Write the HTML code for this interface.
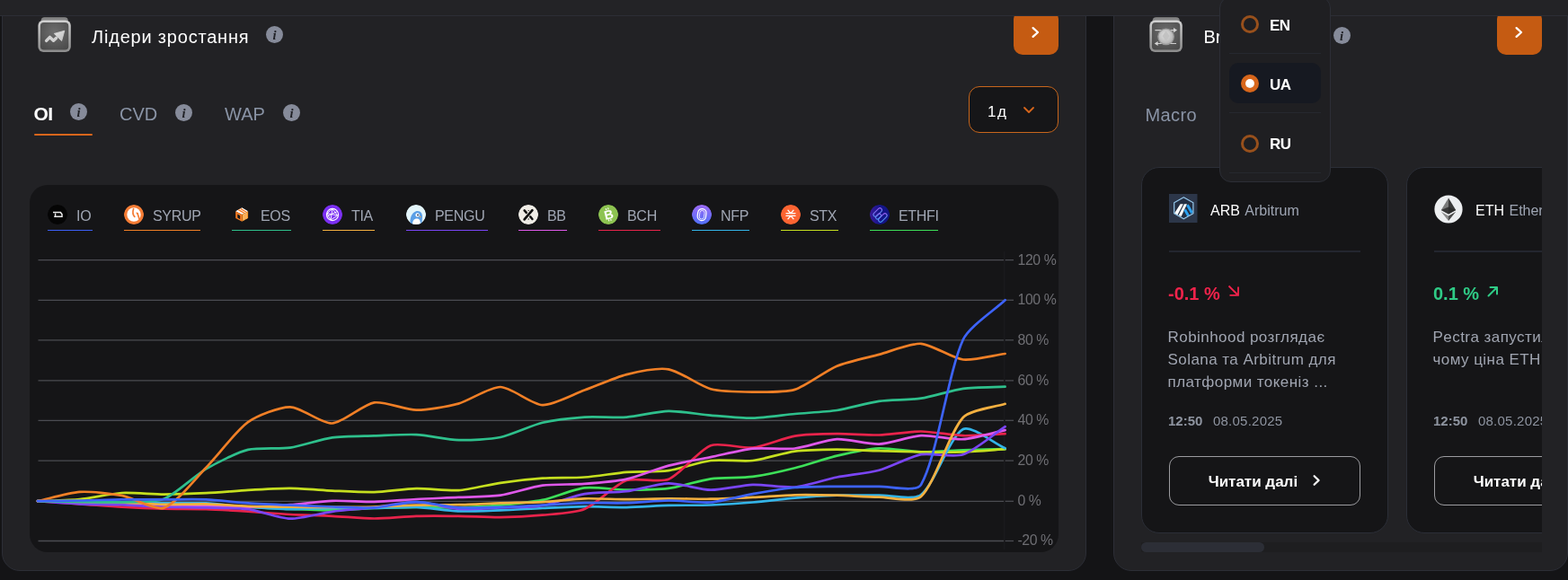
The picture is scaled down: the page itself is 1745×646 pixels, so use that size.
<!DOCTYPE html>
<html lang="uk"><head><meta charset="utf-8">
<title>Dashboard</title>
<style>
*{box-sizing:border-box;margin:0;padding:0}
html,body{width:1745px;height:646px;overflow:hidden;background:#141416;font-family:"Liberation Sans","Noto Sans CJK SC",sans-serif;color:#fff}
.abs{position:absolute}
.panel{position:absolute;background:#222225;border:1px solid #2c2e36;border-radius:20px}
#p1{left:2px;top:-40px;width:1207px;height:676px}
#p2{left:1239px;top:-40px;width:506px;height:676px}
.hdr{position:absolute;left:0;top:0;width:1745px;height:18px;background:#232326;border-bottom:1px solid #2c2e36;z-index:5}
.title{position:absolute;font-size:20px;line-height:24px;color:#fff;white-space:nowrap}
.info{position:absolute;width:19px;height:19px;border-radius:50%;background:#868b9a;color:#202126;font:italic bold 14.5px/21px "Liberation Serif",serif;text-align:center;overflow:hidden}
.obtn{position:absolute;width:50px;height:50px;border-radius:10px;background:#c55b12}
.obtn svg{position:absolute;left:0;top:0}
.tab{position:absolute;font-size:20px;line-height:24px;color:#8a94a6;white-space:nowrap}
.tab.on{color:#fff}
.uline{position:absolute;height:2.5px;background:#d8661c;border-radius:1px}
.sel{position:absolute;left:1078px;top:96px;width:100px;height:52px;border:1px solid #c8661c;border-radius:12px;background:#161618}
.chartbox{position:absolute;left:33px;top:206px;width:1145px;height:408.5px;background:#151517;border-radius:20px}
.lg{position:absolute;top:228px;height:30px;font-size:16px;line-height:22px;color:#a0a6b3;white-space:nowrap;letter-spacing:-0.3px}
.lg .ic{position:absolute;left:0;top:0;width:22px;height:22px;border-radius:50%;overflow:hidden}
.lg .tx{position:absolute;left:32px;top:1.5px}
.lg .ul{position:absolute;left:0;top:27.8px;height:1.4px;right:0}
svg.chart{position:absolute;left:0;top:0}
.card{position:absolute;top:187px;width:274px;height:406px;background:#151517;border:1px solid #2b2e37;border-radius:20px;overflow:hidden}
.clip{position:absolute;left:1270px;top:150px;width:446px;height:470px;overflow:hidden}
.dl{font-size:17px;line-height:20px;font-weight:bold;color:#fff;letter-spacing:-0.6px}
.para{font-size:17px;line-height:25px;color:#a0a5b1;white-space:nowrap;letter-spacing:0.45px}
.date{font-size:15px;line-height:18px;color:#8e94a0;white-space:nowrap}
.rbtn{left:73.7px;top:339.5px;font-size:17px;line-height:20px;font-weight:bold;white-space:nowrap;letter-spacing:0px}
.dd{position:absolute;left:1357px;top:-4px;width:124px;height:207px;background:#1f1f22;border:1px solid #2c2e36;border-radius:13px;z-index:10}
</style></head>
<body>
<div class="panel" id="p1"></div>
<div class="panel" id="p2"></div>

<!-- ============ PANEL 1 ============ -->
<svg class="abs" style="left:42px;top:19px" width="38" height="40" viewBox="0 0 38 40">
  <defs>
    <linearGradient id="tabg" x1="0" y1="0" x2="0" y2="1"><stop offset="0" stop-color="#8a8a8a"/><stop offset="1" stop-color="#6a6a6a"/></linearGradient>
    <linearGradient id="rimg" x1="0" y1="0" x2="0" y2="1"><stop offset="0" stop-color="#d2d2d2"/><stop offset="1" stop-color="#8c8c8c"/></linearGradient>
    <radialGradient id="facg" cx="0.5" cy="0.35" r="0.75"><stop offset="0" stop-color="#6e6e6e"/><stop offset="1" stop-color="#4a4a4a"/></radialGradient>
    <linearGradient id="glyg" x1="0" y1="0" x2="1" y2="1"><stop offset="0" stop-color="#e6e6e6"/><stop offset="1" stop-color="#bdbdbd"/></linearGradient>
  </defs>
  <rect x="3.6" y="0.2" width="30.2" height="9" rx="4" fill="url(#tabg)"/>
  <rect x="0.4" y="3.6" width="36.4" height="35.4" rx="6" fill="url(#rimg)"/>
  <rect x="2.9" y="6.1" width="31.4" height="30.4" rx="4" fill="url(#facg)"/>
  <polyline points="9.6,26.4 13.5,22.4 17.5,26.2 20.5,23.4" fill="none" stroke="#d2d2d2" stroke-width="3.4" stroke-linecap="round" stroke-linejoin="round"/>
  <polygon points="18.2,18.4 29.8,15.2 26.6,26.6" fill="url(#glyg)" stroke="#d6d6d6" stroke-width="0.8" stroke-linejoin="round"/>
</svg>
<div class="title" style="left:102px;top:29px;letter-spacing:0.8px">Лідери зростання</div>
<div class="info" style="left:296px;top:29px">i</div>
<div class="obtn" style="left:1128px;top:11px"><svg width="50" height="50"><polyline points="21.6,29.9 27,25 21.6,20.1" fill="none" stroke="#fff" stroke-width="2.3" stroke-linecap="round" stroke-linejoin="round"/></svg></div>

<div class="tab on" style="left:37.5px;top:114.8px;font-size:21px;font-weight:bold;letter-spacing:-0.6px">OI</div>
<div class="info" style="left:78px;top:115px">i</div>
<div class="uline" style="left:38px;top:148.5px;width:65px"></div>
<div class="tab" style="left:133px;top:115px">CVD</div>
<div class="info" style="left:195px;top:116px">i</div>
<div class="tab" style="left:250px;top:115px">WAP</div>
<div class="info" style="left:315px;top:116px">i</div>

<div class="sel"><span class="abs" style="left:20px;top:18px;font-size:17px;line-height:20px;color:#fff;letter-spacing:1.5px">1д</span>
<svg class="abs" style="left:58.5px;top:21px" width="14" height="10"><polyline points="2,2 7,7 12,2" fill="none" stroke="#d8661c" stroke-width="1.8" stroke-linecap="round" stroke-linejoin="round"/></svg></div>

<div class="chartbox"></div>

<!-- legend -->
<div class="lg" style="left:53px;width:50px"><svg class="ic" width="22" height="22" viewBox="0 0 22 22"><circle cx="11" cy="11" r="11" fill="#050505"/><path d="M6 8.6h8.4l1.6 2.2v2.4H7.2" fill="none" stroke="#e8e8e8" stroke-width="1.5"/><path d="M8.6 9.6v3.6" stroke="#e8e8e8" stroke-width="1.4"/></svg><span class="tx">IO</span><div class="ul" style="background:#3b5ef5"></div></div>
<div class="lg" style="left:138px;width:85px"><svg class="ic" width="22" height="22" viewBox="0 0 22 22"><circle cx="11" cy="11" r="11" fill="#f47c35"/><circle cx="11" cy="11" r="7.7" fill="#fff"/><path d="M10.6 4.5 C9.6 7.5 10 11.5 11.8 13.4" fill="none" stroke="#f47c35" stroke-width="1.7" stroke-linecap="round"/><path d="M15 9.6 C15.8 11.5 16.4 14.6 17.6 17" fill="none" stroke="#f47c35" stroke-width="1.7" stroke-linecap="round"/><path d="M13.6 9.2 C14.8 9 15.2 9.8 15.6 11" fill="none" stroke="#f47c35" stroke-width="1.4"/></svg><span class="tx">SYRUP</span><div class="ul" style="background:#f07f26"></div></div>
<div class="lg" style="left:258px;width:66px"><svg class="ic" width="22" height="22" viewBox="0 0 22 22"><path d="M11.3 3.2 L18.1 7.2 L11.3 11 L4.2 7.2Z" fill="#fff"/><path d="M7.2 5.6 L14 9.4 M9.6 4.4 L16.2 8.2" stroke="#f47a22" stroke-width="1.3"/><path d="M4.2 7.2 L11.3 11 V18.7 L4.2 15Z" fill="#f47a22"/><path d="M6.3 10.6 L9.2 12.2 V16.2 L6.3 14.6Z" fill="#161618"/><path d="M11.3 11 L18.1 7.2 V15 L11.3 18.7Z" fill="#f7982f"/><path d="M13.6 9.9 V17.2 M15.9 8.7 V15.9" stroke="#fbd29a" stroke-width="0.9"/></svg><span class="tx">EOS</span><div class="ul" style="background:#2ec08c"></div></div>
<div class="lg" style="left:359px;width:58px"><svg class="ic" width="22" height="22" viewBox="0 0 22 22"><circle cx="11" cy="11" r="11" fill="#7b2ff2"/><circle cx="11" cy="11" r="6.6" fill="none" stroke="#fff" stroke-width="1.1"/><path d="M5 9.5 L11 4.6 L16.6 12 L9 17 L5 9.5 L16.6 12 M11 4.6 L9 17 M5.2 12.8 L15.8 7.8" fill="none" stroke="#fff" stroke-width="0.9"/></svg><span class="tx">TIA</span><div class="ul" style="background:#f4b040"></div></div>
<div class="lg" style="left:452px;width:91px"><svg class="ic" width="22" height="22" viewBox="0 0 22 22"><circle cx="11" cy="11" r="11" fill="#e3f5fa"/><path d="M4.5 22 C4 16 5.5 9 11 7.2 C15.5 6 18.5 9.5 18 14 C17.8 17 17.5 20 17 22Z" fill="#5a9fe6"/><path d="M7 22 C7 18 8.6 15.4 12 15.4 C15 15.4 16 18 16 22Z" fill="#fff"/><circle cx="12.6" cy="11.4" r="2.2" fill="#fff"/><circle cx="13" cy="11.4" r="0.9" fill="#1b2a48"/><path d="M14.8 12.6 l2.4 0.6 -2.2 0.8z" fill="#f3a23b"/></svg><span class="tx">PENGU</span><div class="ul" style="background:#7a45f6"></div></div>
<div class="lg" style="left:577px;width:54px"><svg class="ic" width="22" height="22" viewBox="0 0 22 22"><circle cx="11" cy="11" r="11" fill="#efece6"/><path d="M6.6 16.4 L15.4 6.2" stroke="#111" stroke-width="2.7" stroke-linecap="round"/><path d="M6.6 6.4 L8.8 8.9 M13.2 13.4 L15.4 16" stroke="#111" stroke-width="2.5" stroke-linecap="round"/><path d="M10.3 6 H12.1 L11.2 7.3Z M10.3 16.4 H12.1 L11.2 15.1Z" fill="#111"/></svg><span class="tx">BB</span><div class="ul" style="background:#df58ea"></div></div>
<div class="lg" style="left:666px;width:69px"><svg class="ic" width="22" height="22" viewBox="0 0 22 22"><circle cx="11" cy="11" r="11" fill="#8dc351"/><text x="11.4" y="16" text-anchor="middle" style="font-family:Liberation Sans,sans-serif;font-weight:bold;font-size:14px" fill="#fff" transform="rotate(-14 11 11)">B</text><path d="M10 3.6v2M12.4 3.6v2M10 16.4v2M12.4 16.4v2" stroke="#fff" stroke-width="1.1" transform="rotate(-14 11 11)"/></svg><span class="tx">BCH</span><div class="ul" style="background:#e8234b"></div></div>
<div class="lg" style="left:770px;width:64px"><svg class="ic" width="22" height="22" viewBox="0 0 22 22"><defs><linearGradient id="nfpg" x1="0" y1="0" x2="0" y2="1"><stop offset="0" stop-color="#9d6af6"/><stop offset="1" stop-color="#4f6ff8"/></linearGradient></defs><circle cx="11" cy="11" r="11" fill="url(#nfpg)"/><rect x="6.4" y="4.6" width="9.4" height="13" rx="4.6" fill="none" stroke="#fff" stroke-width="1.2" transform="rotate(8 11 11)"/><rect x="8.6" y="6.4" width="5.2" height="9.6" rx="2.6" fill="none" stroke="#e8e4ff" stroke-width="0.9" transform="rotate(8 11 11)"/></svg><span class="tx">NFP</span><div class="ul" style="background:#33b4e8"></div></div>
<div class="lg" style="left:869px;width:64px"><svg class="ic" width="22" height="22" viewBox="0 0 22 22"><circle cx="11" cy="11" r="11" fill="#fc6432"/><path d="M6 9.6h10M6 12.4h10M8 6.2l3 3.4 3-3.4M8 15.8l3-3.4 3 3.4" fill="none" stroke="#fff" stroke-width="1.3" stroke-linecap="round" stroke-linejoin="round"/></svg><span class="tx">STX</span><div class="ul" style="background:#c5df1f"></div></div>
<div class="lg" style="left:968px;width:76px"><svg class="ic" width="22" height="22" viewBox="0 0 22 22"><defs><linearGradient id="efg" x1="0" y1="0" x2="1" y2="0"><stop offset="0" stop-color="#3a1a9a"/><stop offset="0.5" stop-color="#14158a"/><stop offset="1" stop-color="#121480"/></linearGradient><linearGradient id="efs" x1="0" y1="1" x2="1" y2="0"><stop offset="0" stop-color="#3aa0f0"/><stop offset="1" stop-color="#a05af0"/></linearGradient></defs><circle cx="11" cy="11" r="11" fill="url(#efg)"/><g fill="none" stroke="url(#efs)" stroke-width="1.1"><rect x="3" y="6.3" width="11.5" height="4.4" rx="2.2" transform="rotate(-45 8.75 8.5)"/><rect x="8.6" y="12.3" width="11.5" height="4.4" rx="2.2" transform="rotate(-45 14.35 14.5)"/><rect x="6" y="11" width="7" height="4" rx="2" transform="rotate(-45 9.5 13)"/></g></svg><span class="tx">ETHFI</span><div class="ul" style="background:#3ddf58"></div></div>

<svg class="chart" width="1745" height="646">
<g stroke="#4b4c52" stroke-width="1.3" fill="none">
<line x1="42.5" y1="289.6" x2="1117" y2="289.6"/><line x1="1118.5" y1="289.6" x2="1128" y2="289.6"/>
<line x1="42.5" y1="334.3" x2="1117" y2="334.3"/><line x1="1118.5" y1="334.3" x2="1128" y2="334.3"/>
<line x1="42.5" y1="378.8" x2="1117" y2="378.8"/><line x1="1118.5" y1="378.8" x2="1128" y2="378.8"/>
<line x1="42.5" y1="423.9" x2="1117" y2="423.9"/><line x1="1118.5" y1="423.9" x2="1128" y2="423.9"/>
<line x1="42.5" y1="468.3" x2="1117" y2="468.3"/><line x1="1118.5" y1="468.3" x2="1128" y2="468.3"/>
<line x1="42.5" y1="513.1" x2="1117" y2="513.1"/><line x1="1118.5" y1="513.1" x2="1128" y2="513.1"/>
<line x1="42.5" y1="558.3" x2="1117" y2="558.3"/><line x1="1118.5" y1="558.3" x2="1128" y2="558.3"/>
<line x1="42.5" y1="602.5" x2="1117" y2="602.5"/><line x1="1118.5" y1="602.5" x2="1128" y2="602.5"/>
</g>
<line x1="1117.8" y1="280" x2="1117.8" y2="612" stroke="#1d1d20" stroke-width="1"/>
<g fill="#6e6e73" style="font-family:'Liberation Sans',sans-serif;font-size:15.8px;letter-spacing:-0.4px">
<text x="1132.5" y="295.1">120 %</text>
<text x="1132.5" y="339.1">100 %</text>
<text x="1132.5" y="384.1">80 %</text>
<text x="1132.5" y="429.1">60 %</text>
<text x="1132.5" y="473.1">40 %</text>
<text x="1132.5" y="518.1">20 %</text>
<text x="1132.5" y="563.1">0 %</text>
<text x="1132.5" y="607.1">-20 %</text>
</g>
<g fill="none" stroke-width="2.7" stroke-linejoin="round" stroke-linecap="round">
<path d="M42.0,558.2 C53.7,558.4 77.1,558.7 88.8,558.9 C100.5,559.0 123.9,559.0 135.6,559.3 C147.3,559.6 170.7,560.9 182.4,561.3 C194.1,561.8 217.5,562.3 229.2,562.7 C240.9,563.1 264.3,564.2 276.0,564.7 C287.7,565.2 311.1,566.5 322.9,566.9 C334.6,567.4 358.0,568.4 369.7,568.3 C381.4,568.2 404.8,566.5 416.5,566.0 C428.2,565.6 451.6,565.0 463.3,564.9 C475.0,564.8 498.4,565.6 510.1,565.4 C521.8,565.1 545.2,563.7 556.9,562.7 C568.6,561.6 592.2,559.2 603.7,556.9 C615.6,554.4 638.6,544.8 650.5,543.4 C662.0,542.0 685.6,545.6 697.3,545.7 C709.0,545.7 732.6,545.4 744.1,543.9 C756.0,542.3 779.1,535.0 790.9,533.3 C802.5,531.7 826.2,532.4 837.7,530.9 C849.6,529.3 873.0,524.1 884.6,521.2 C896.4,518.3 919.5,510.4 931.4,507.6 C942.9,504.9 966.4,499.8 978.2,499.3 C989.8,498.8 1013.3,503.1 1025.0,503.3 C1036.7,503.6 1060.1,501.7 1071.8,501.3 C1083.5,500.9 1106.9,500.5 1118.6,500.2" stroke="#3ddf58"/>
<path d="M42.0,558.2 C53.7,557.7 77.2,557.3 88.8,556.2 C100.6,555.0 123.9,549.7 135.6,549.0 C147.3,548.3 170.7,550.6 182.4,550.6 C194.1,550.6 217.5,549.8 229.2,549.2 C240.9,548.7 264.3,546.6 276.0,545.9 C287.7,545.2 311.2,543.8 322.9,543.9 C334.6,543.9 358.0,546.0 369.7,546.6 C381.4,547.1 404.8,548.4 416.5,548.1 C428.2,547.8 451.6,544.3 463.3,544.1 C475.0,543.8 498.5,546.9 510.1,546.1 C521.9,545.3 545.1,539.5 556.9,537.8 C568.5,536.1 592.0,533.5 603.7,532.7 C615.4,531.9 638.9,532.4 650.5,531.5 C662.3,530.7 685.6,526.9 697.3,525.9 C709.0,525.0 732.6,525.8 744.1,524.2 C756.0,522.5 779.1,514.4 790.9,513.0 C802.5,511.6 826.2,514.2 837.7,513.0 C849.6,511.6 872.7,504.2 884.6,502.6 C896.1,501.1 919.7,500.7 931.4,500.6 C943.1,500.6 966.5,501.9 978.2,502.2 C989.9,502.5 1013.3,503.2 1025.0,503.3 C1036.7,503.5 1060.1,503.7 1071.8,503.3 C1083.5,502.9 1106.9,501.0 1118.6,500.2" stroke="#c5df1f"/>
<path d="M42.0,558.2 C53.7,558.3 77.1,558.5 88.8,558.6 C100.5,558.8 123.9,559.1 135.6,559.3 C147.3,559.5 170.7,560.3 182.4,560.4 C194.1,560.6 217.6,559.9 229.2,560.4 C241.0,561.0 264.3,563.9 276.0,564.7 C287.7,565.5 311.1,567.0 322.9,567.2 C334.5,567.3 358.0,566.2 369.7,566.0 C381.4,565.9 404.8,566.2 416.5,566.0 C428.2,565.9 451.6,564.5 463.3,564.9 C475.0,565.3 498.4,569.0 510.1,569.4 C521.8,569.8 545.2,568.7 556.9,568.3 C568.6,567.9 592.0,566.5 603.7,566.0 C615.4,565.5 638.8,564.4 650.5,564.2 C662.2,564.1 685.6,565.3 697.3,565.1 C709.0,565.0 732.4,563.2 744.1,562.9 C755.8,562.6 779.2,562.9 790.9,562.5 C802.7,562.0 826.1,560.5 837.7,559.5 C849.5,558.6 872.8,555.6 884.6,554.6 C896.2,553.6 919.7,552.1 931.4,551.7 C943.1,551.3 966.5,551.8 978.2,551.7 C989.9,551.6 1016.8,557.5 1025.0,551.0 C1040.2,539.1 1057.1,486.1 1071.8,478.0 C1080.5,473.2 1106.9,494.0 1118.6,499.3" stroke="#33b4e8"/>
<path d="M42.0,558.2 C53.7,559.0 77.1,560.5 88.8,561.3 C100.5,562.1 123.9,564.0 135.6,564.7 C147.3,565.4 170.7,566.4 182.4,566.7 C194.1,567.0 217.5,566.8 229.2,567.2 C240.9,567.5 264.3,568.9 276.0,569.6 C287.8,570.4 311.1,572.3 322.9,573.0 C334.5,573.6 358.0,574.2 369.7,574.8 C381.4,575.3 404.8,577.5 416.5,577.5 C428.2,577.5 451.6,575.1 463.3,574.8 C475.0,574.4 498.4,574.6 510.1,574.8 C521.8,574.9 545.2,576.3 556.9,576.1 C568.6,576.0 592.1,574.8 603.7,573.7 C615.5,572.5 639.9,571.3 650.5,566.9 C663.3,561.7 684.5,539.7 697.3,535.1 C707.9,531.4 733.9,538.1 744.1,533.8 C757.3,528.3 777.8,501.1 790.9,496.2 C801.2,492.3 826.3,499.9 837.7,498.6 C849.7,497.3 872.6,487.6 884.6,485.6 C896.0,483.7 919.7,483.3 931.4,483.2 C943.1,483.0 966.5,484.8 978.2,484.5 C989.9,484.2 1013.3,480.4 1025.0,480.5 C1036.7,480.6 1060.1,484.8 1071.8,485.2 C1083.5,485.5 1106.9,483.7 1118.6,483.2" stroke="#e8234b"/>
<path d="M42.0,558.2 C53.7,558.5 77.1,559.0 88.8,559.3 C100.5,559.6 123.9,560.0 135.6,560.4 C147.3,560.9 170.7,562.3 182.4,562.7 C194.1,563.1 217.5,563.3 229.2,563.6 C240.9,563.8 264.3,564.9 276.0,564.7 C287.8,564.5 311.2,563.1 322.9,562.2 C334.6,561.4 357.9,558.2 369.7,557.8 C381.3,557.3 404.8,559.1 416.5,558.9 C428.2,558.6 451.6,556.6 463.3,556.0 C475.0,555.3 498.4,554.5 510.1,553.9 C521.8,553.4 545.3,553.3 556.9,551.7 C568.7,550.0 591.8,542.3 603.7,540.7 C615.3,539.2 638.8,539.8 650.5,538.9 C662.2,538.0 685.9,536.1 697.3,533.6 C709.3,531.0 732.3,521.6 744.1,518.6 C755.7,515.5 779.2,511.5 790.9,509.1 C802.6,506.8 825.9,501.0 837.7,499.7 C849.3,498.5 873.0,500.8 884.6,499.5 C896.4,498.2 919.6,489.8 931.4,489.2 C943.0,488.6 966.5,495.1 978.2,494.6 C990.0,494.1 1013.2,485.9 1025.0,485.2 C1036.6,484.5 1060.2,490.0 1071.8,489.2 C1083.6,488.4 1106.9,481.6 1118.6,479.1" stroke="#df58ea"/>
<path d="M42.0,558.2 C53.7,559.0 77.1,560.8 88.8,561.3 C100.5,561.8 123.9,561.8 135.6,562.2 C147.3,562.7 170.7,564.3 182.4,564.7 C194.1,565.1 217.5,565.1 229.2,565.4 C240.9,565.7 264.5,565.6 276.0,567.2 C287.9,568.7 311.1,577.4 322.9,577.7 C334.5,578.0 357.9,571.4 369.7,569.8 C381.3,568.3 404.8,566.5 416.5,565.1 C428.2,563.8 451.6,558.9 463.3,559.1 C475.0,559.3 498.3,566.1 510.1,566.9 C521.7,567.7 545.2,565.8 556.9,565.4 C568.6,564.9 592.2,565.0 603.7,563.1 C615.6,561.2 638.6,552.2 650.5,550.1 C662.0,548.2 685.7,548.7 697.3,547.2 C709.1,545.7 732.4,538.5 744.1,538.3 C755.8,538.1 779.2,545.5 790.9,545.7 C802.6,545.9 826.0,540.2 837.7,539.8 C849.4,539.4 873.0,543.5 884.6,542.5 C896.4,541.5 919.6,533.9 931.4,531.5 C943.0,529.2 966.8,526.8 978.2,523.7 C990.2,520.5 1012.9,508.5 1025.0,506.2 C1036.3,504.1 1061.2,509.8 1071.8,506.2 C1084.6,502.0 1106.9,482.9 1118.6,475.1" stroke="#7a45f6"/>
<path d="M42.0,558.2 C53.7,558.4 77.1,558.7 88.8,558.9 C100.5,559.0 123.9,559.0 135.6,559.3 C147.3,559.7 170.7,561.5 182.4,561.8 C194.1,562.0 217.5,561.1 229.2,561.3 C240.9,561.6 264.3,563.4 276.0,563.8 C287.7,564.2 311.1,564.6 322.9,564.7 C334.6,564.8 358.0,564.9 369.7,564.9 C381.4,564.9 404.8,564.8 416.5,564.5 C428.2,564.2 451.6,563.0 463.3,562.7 C475.0,562.4 498.4,562.5 510.1,562.2 C521.8,562.0 545.2,560.8 556.9,560.4 C568.6,560.0 592.0,559.7 603.7,559.1 C615.4,558.5 638.8,555.7 650.5,555.3 C662.2,554.9 685.6,556.2 697.3,556.2 C709.0,556.2 732.4,555.3 744.1,555.3 C755.8,555.2 779.2,555.9 790.9,555.7 C802.6,555.6 826.1,554.5 837.7,553.9 C849.5,553.4 872.8,551.5 884.6,551.3 C896.2,551.0 919.7,551.4 931.4,551.7 C943.1,552.0 966.5,553.6 978.2,553.7 C989.9,553.9 1017.5,560.1 1025.0,553.0 C1040.9,538.0 1056.1,482.3 1071.8,465.0 C1079.5,456.5 1106.9,453.6 1118.6,449.8" stroke="#f4b040"/>
<path d="M42.0,558.2 C53.7,558.4 77.1,558.7 88.8,558.9 C100.5,559.0 123.9,559.7 135.6,559.3 C147.3,558.9 171.9,559.9 182.4,555.7 C195.3,550.6 216.9,529.6 229.2,522.4 C240.3,515.9 263.8,504.0 276.0,500.9 C287.2,498.0 311.3,500.3 322.9,498.6 C334.7,496.9 357.8,489.1 369.7,487.4 C381.2,485.8 404.8,485.8 416.5,485.4 C428.2,485.0 451.6,483.5 463.3,484.1 C475.0,484.6 498.3,489.7 510.1,490.1 C521.8,490.5 545.5,489.3 556.9,487.0 C568.9,484.5 591.7,473.7 603.7,470.8 C615.1,468.1 638.8,465.4 650.5,464.6 C662.2,463.8 685.7,465.4 697.3,464.6 C709.1,463.7 732.4,458.1 744.1,457.8 C755.8,457.6 779.2,461.6 790.9,462.6 C802.6,463.5 826.1,465.9 837.7,465.7 C849.5,465.5 872.8,462.1 884.6,461.0 C896.3,459.9 919.8,458.7 931.4,457.0 C943.2,455.2 966.4,448.5 978.2,446.9 C989.8,445.2 1013.4,445.5 1025.0,443.7 C1036.8,442.0 1059.9,434.4 1071.8,432.8 C1083.3,431.2 1106.9,431.2 1118.6,430.7" stroke="#2ec08c"/>
<path d="M42.0,558.2 C53.7,555.6 77.0,548.7 88.8,547.9 C100.4,547.1 124.1,549.8 135.6,551.9 C147.5,554.2 172.4,568.9 182.4,565.6 C195.8,561.2 217.9,532.5 229.2,521.0 C241.3,508.7 262.4,480.0 276.0,470.2 C285.8,463.1 311.2,453.2 322.9,453.4 C334.6,453.5 358.2,472.1 369.7,471.5 C381.6,470.9 404.2,450.4 416.5,448.4 C427.6,446.7 451.6,456.6 463.3,456.7 C475.0,456.9 498.7,452.7 510.1,449.6 C522.1,446.2 545.3,430.8 556.9,431.0 C568.7,431.2 591.9,450.7 603.7,451.1 C615.3,451.6 638.8,438.8 650.5,434.6 C662.3,430.3 685.3,420.1 697.3,417.1 C708.7,414.3 733.0,409.3 744.1,411.3 C756.4,413.4 778.7,429.9 790.9,433.2 C802.1,436.2 826.0,436.5 837.7,436.6 C849.4,436.7 873.6,437.2 884.6,433.9 C897.0,430.0 919.1,412.8 931.4,407.7 C942.5,403.0 966.5,398.0 978.2,394.9 C989.9,391.8 1013.5,382.1 1025.0,382.8 C1036.9,383.5 1059.8,399.1 1071.8,400.5 C1083.2,401.9 1106.9,395.6 1118.6,394.0" stroke="#f07f26"/>
<path d="M42.0,558.2 C53.7,558.0 77.1,557.8 88.8,557.5 C100.5,557.3 123.9,556.5 135.6,556.4 C147.3,556.3 170.7,556.4 182.4,556.4 C194.1,556.4 217.6,555.9 229.2,556.4 C241.0,556.9 264.3,559.7 276.0,560.4 C287.7,561.2 311.1,562.2 322.9,562.7 C334.6,563.2 358.0,564.1 369.7,564.5 C381.4,564.8 404.8,566.0 416.5,565.4 C428.2,564.7 451.6,559.1 463.3,559.1 C475.0,559.1 498.3,564.6 510.1,565.4 C521.7,566.1 545.2,565.3 556.9,564.9 C568.6,564.6 592.0,563.3 603.7,562.7 C615.4,562.1 638.8,560.5 650.5,560.2 C662.2,559.9 685.6,560.6 697.3,560.2 C709.0,559.9 732.4,557.6 744.1,557.5 C755.8,557.4 779.3,560.5 790.9,559.5 C802.8,558.6 826.0,552.2 837.7,550.1 C849.4,548.1 872.8,544.0 884.6,543.0 C896.2,541.9 919.7,542.0 931.4,541.8 C943.1,541.7 966.5,542.1 978.2,541.8 C989.9,541.6 1019.9,548.7 1025.0,539.8 C1043.3,507.9 1054.9,415.5 1071.8,378.3 C1078.3,364.1 1106.9,345.2 1118.6,334.2" stroke="#3d63fb"/>
</g>
</svg>

<!-- ============ PANEL 2 ============ -->
<svg class="abs" style="left:1279px;top:19px" width="38" height="40" viewBox="0 0 38 40">
  <defs>
    <radialGradient id="coing" cx="0.45" cy="0.4" r="0.6"><stop offset="0" stop-color="#e2e2e2"/><stop offset="1" stop-color="#b4b4b4"/></radialGradient>
  </defs>
  <rect x="3.6" y="0.2" width="30.2" height="9" rx="4" fill="url(#tabg)"/>
  <rect x="0.4" y="3.6" width="36.4" height="35.4" rx="6" fill="url(#rimg)"/>
  <rect x="2.9" y="6.1" width="31.4" height="30.4" rx="4" fill="url(#facg)"/>
  <path d="M6.4 14.6H29.5M6.8 29.5H30" stroke="#cfcfcf" stroke-width="1.2"/>
  <path d="M27 12 L31 14.6 L27 17.2Z M9.6 27 L5.8 29.5 L9.6 32Z" fill="#d4d4d4"/>
  <circle cx="18.6" cy="21.8" r="9.4" fill="#9a9a9a"/>
  <circle cx="18.6" cy="21.8" r="8" fill="url(#coing)"/>
  <path d="M18.6 15.5 L22.6 21 L18.6 27 L14.6 21Z" fill="#c2c2c2"/>
</svg>
<div class="title" style="left:1339.5px;top:29px;letter-spacing:0px">Breaking news</div>
<div class="info" style="left:1483.5px;top:29.5px">i</div>
<div class="obtn" style="left:1666px;top:11px"><svg width="50" height="50"><polyline points="21.6,29.9 27,25 21.6,20.1" fill="none" stroke="#fff" stroke-width="2.3" stroke-linecap="round" stroke-linejoin="round"/></svg></div>
<div class="tab" style="left:1274.5px;top:115.5px;letter-spacing:0.4px">Macro</div>

<div class="clip">
  <div class="card" style="left:0;top:36px;height:408px;width:275px">
    <svg class="abs" style="left:30px;top:29px" width="32" height="32" viewBox="0 0 32 32">
      <defs><clipPath id="hexc"><path d="M16.3 3.8 L26.9 9.8 V21.8 L16.3 27.8 L5.7 21.8 V9.8Z"/></clipPath></defs>
      <rect width="31.5" height="32" fill="#2c3649"/>
      <path d="M16.3 3.8 L26.9 9.8 V21.8 L16.3 27.8 L5.7 21.8 V9.8Z" fill="#243044"/>
      <g clip-path="url(#hexc)">
        <path d="M12.6 11.2 L15.8 11.2 L9.4 23.6 L6 21.6Z M17 11.2 L20 11.2 L13.6 25 L10.6 24Z" fill="#fff"/>
        <path d="M20.4 12.2 L25.6 21.2 M17.6 17.6 L21.6 24.6" stroke="#2aa0ef" stroke-width="3"/>
      </g>
      <path d="M16.3 3.8 L26.9 9.8 V21.8 L16.3 27.8 L5.7 21.8 V9.8Z" fill="none" stroke="#96c8ec" stroke-width="1.2" stroke-linejoin="round"/>
    </svg>
    <div class="abs" style="left:76px;top:38px;font-size:16px;line-height:20px;white-space:nowrap"><span style="color:#fff">ARB</span> <span style="color:#9ea5b3;margin-left:1px">Arbitrum</span></div>
    <div class="abs" style="left:30px;top:92px;width:213px;height:2px;background:#23262f"></div>
    <div class="abs" style="left:29px;top:127.8px;font-size:20px;line-height:24px;color:#f0234b;font-weight:bold;white-space:nowrap">-0.1 %</div>
    <svg class="abs" style="left:94.5px;top:130px" width="14" height="14"><path d="M1.5 1.5 L12 12 M2.5 11.9 H12 V2.4" fill="none" stroke="#f0234b" stroke-width="1.8" stroke-linecap="butt" stroke-linejoin="miter"/></svg>
    <div class="abs para" style="left:28.5px;top:175.5px">Robinhood розглядає<br>Solana та Arbitrum для<br>платформи токеніз ...</div>
    <div class="abs date" style="left:29px;top:272.5px"><b>12:50</b><span style="margin-left:11.5px;letter-spacing:0.25px">08.05.2025</span></div>
    <div class="abs" style="left:30px;top:321px;width:213px;height:55px;border:1px solid #9c9ca0;border-radius:11px"></div>
    <div class="abs rbtn">Читати далі</div>
    <svg class="abs" style="left:188px;top:339px" width="12" height="18"><polyline points="3.6,4.2 8.6,9 3.6,13.8" fill="none" stroke="#fff" stroke-width="2.2" stroke-linecap="round" stroke-linejoin="round"/></svg>
  </div>
  <div class="card" style="left:295px;top:36px;height:408px;width:275px">
    <svg class="abs" style="left:29.5px;top:29.5px" width="32" height="32" viewBox="0 0 32 32">
      <circle cx="16" cy="16" r="15.6" fill="#eceef0"/>
      <path d="M16 3.4 L24.2 17 L16 21.6Z" fill="#3a3a3a"/>
      <path d="M16 3.4 L7.8 17 L16 21.6Z" fill="#7a7a7a"/>
      <path d="M7.8 17 L16 13.4 L24.2 17 L16 21.6Z" fill="#2b2b2b" opacity="0.85"/>
      <path d="M7.8 18.8 L16 23.4 L16 29 Z" fill="#8a8a8a"/>
      <path d="M24.2 18.8 L16 23.4 L16 29 Z" fill="#4a4a4a"/>
    </svg>
    <div class="abs" style="left:76px;top:38px;font-size:16px;line-height:20px;white-space:nowrap"><span style="color:#fff">ETH</span> <span style="color:#9ea5b3;margin-left:1px">Ethereum</span></div>
    <div class="abs" style="left:30px;top:92px;width:213px;height:2px;background:#23262f"></div>
    <div class="abs" style="left:29px;top:127.8px;font-size:20px;line-height:24px;color:#2fcb86;font-weight:bold;white-space:nowrap">0.1 %</div>
    <svg class="abs" style="left:88px;top:130.5px" width="14" height="14"><path d="M2.5 11.5 L12 2 M4.5 2 H12 V9.5" fill="none" stroke="#2fcb86" stroke-width="2" stroke-linecap="round" stroke-linejoin="round"/></svg>
    <div class="abs para" style="left:28.5px;top:175.5px">Pectra запустили:<br>чому ціна ETH не росте?</div>
    <div class="abs date" style="left:29px;top:272.5px"><b>12:50</b><span style="margin-left:11.5px;letter-spacing:0.25px">08.05.2025</span></div>
    <div class="abs" style="left:30px;top:321px;width:213px;height:55px;border:1px solid #9c9ca0;border-radius:11px"></div>
    <div class="abs rbtn">Читати далі</div>
    <svg class="abs" style="left:188px;top:339px" width="12" height="18"><polyline points="3.6,4.2 8.6,9 3.6,13.8" fill="none" stroke="#fff" stroke-width="2.2" stroke-linecap="round" stroke-linejoin="round"/></svg>
  </div>
  <div class="abs" style="left:0;top:454px;width:446px;height:11px;background:#1e1e20"></div>
  <div class="abs" style="left:0;top:454px;width:137px;height:11px;background:#2c2e36;border-radius:6px"></div>
</div>


<div class="hdr"></div>

<div class="dd">
  <div class="abs" style="left:10px;top:61.5px;width:102px;height:1px;background:#26282f"></div>
  <div class="abs" style="left:10px;top:128px;width:102px;height:1px;background:#26282f"></div>
  <div class="abs" style="left:10px;top:195px;width:102px;height:1px;background:#26282f"></div>
  <div class="abs" style="left:10px;top:72.8px;width:102px;height:45px;background:#161921;border-radius:10px"></div>
  <div class="abs" style="left:23px;top:20px;width:20px;height:20px;border-radius:50%;border:3px solid #98501c"></div>
  <div class="abs" style="left:23px;top:86px;width:20px;height:20px;border-radius:50%;background:#d7661b"></div>
  <div class="abs" style="left:28px;top:91px;width:10px;height:10px;border-radius:50%;background:radial-gradient(circle at 50% 35%,#fff 0,#fff 45%,#e4e4e4 100%)"></div>
  <div class="abs" style="left:23px;top:153px;width:20px;height:20px;border-radius:50%;border:3px solid #98501c"></div>
  <div class="abs dl" style="left:55px;top:22px">EN</div>
  <div class="abs dl" style="left:55px;top:88px">UA</div>
  <div class="abs dl" style="left:55px;top:154px">RU</div>
</div>

</body></html>
